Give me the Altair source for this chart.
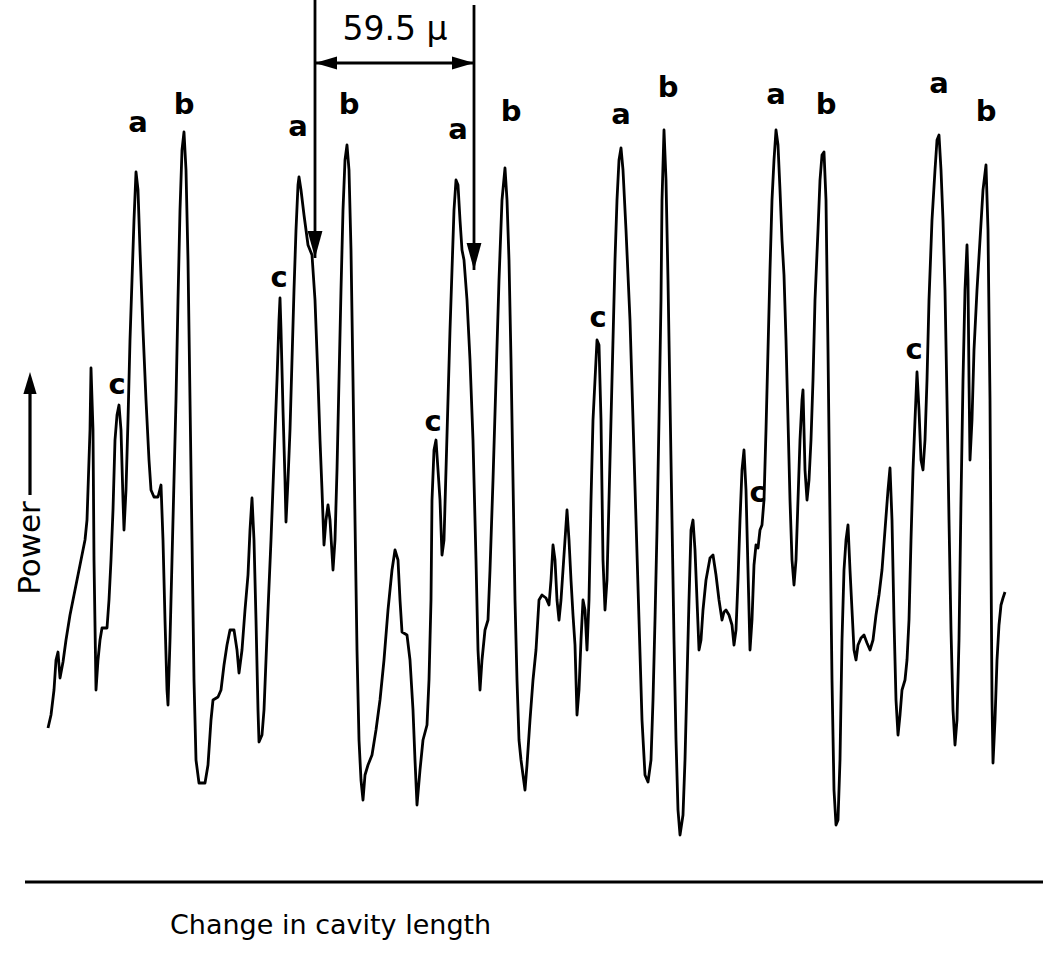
import altair as alt
import pandas as pd

# Recorder trace: laser output power while the cavity length is swept
cavity_shift = [
    48, 51, 54, 56, 58, 60, 63, 66, 70, 74, 78, 82, 85, 87, 88, 90, 91, 93, 94, 96,
    98, 100, 102, 107, 109, 111, 113, 115, 117, 119, 121, 123, 124, 126, 128, 130, 132, 134, 136, 138,
    140, 143, 146, 149, 151, 154, 158, 161, 163, 165, 167, 168, 170, 172, 174, 176, 178, 180, 182, 184,
    186, 188, 190, 192, 194, 196, 199, 205, 208, 211, 213, 218, 221, 224, 227, 230, 234, 237, 239, 242,
    245, 248, 250, 252, 254, 256, 258, 259, 262, 264, 266, 268, 271, 274, 277, 279, 280, 281, 283, 285,
    286, 288, 290, 292, 294, 296, 298, 299, 301, 304, 308, 312, 315, 318, 320, 322, 324, 326, 328, 330,
    333, 335, 337, 339, 341, 343, 345, 347, 349, 351, 353, 355, 357, 359, 361, 363, 365, 368, 372, 376,
    380, 384, 388, 392, 395, 398, 400, 402, 407, 410, 413, 415, 417, 420, 423, 427, 429, 431, 432, 434,
    436, 438, 440, 442, 444, 446, 448, 450, 452, 454, 456, 458, 460, 462, 464, 467, 470, 473, 476, 478,
    480, 482, 485, 488, 490, 493, 496, 499, 502, 505, 507, 509, 511, 513, 515, 517, 519, 521, 523, 525,
    527, 530, 533, 536, 539, 542, 546, 549, 551, 553, 555, 557, 559, 561, 563, 565, 567, 569, 571, 573,
    575, 577, 579, 581, 583, 585, 587, 589, 591, 593, 595, 597, 599, 601, 603, 605, 607, 609, 611, 613,
    615, 617, 619, 621, 623, 626, 630, 633, 636, 639, 642, 645, 648, 651, 653, 655, 657, 659, 661, 662,
    664, 666, 668, 670, 672, 674, 676, 678, 680, 683, 685, 687, 689, 691, 693, 695, 697, 699, 701, 703,
    706, 710, 713, 716, 719, 722, 724, 726, 729, 732, 734, 736, 738, 740, 742, 744, 746, 748, 750, 752,
    754, 756, 758, 760, 762, 764, 766, 768, 770, 772, 774, 776, 778, 780, 782, 784, 786, 788, 790, 792,
    794, 796, 798, 800, 802, 803, 805, 807, 809, 811, 813, 815, 818, 820, 822, 824, 826, 828, 830, 832,
    834, 836, 838, 840, 842, 844, 846, 848, 850, 852, 854, 856, 858, 861, 864, 867, 870, 873, 876, 879,
    882, 885, 888, 890, 892, 894, 896, 898, 900, 902, 905, 907, 909, 911, 913, 915, 917, 919, 921, 923,
    925, 927, 929, 932, 935, 937, 939, 941, 943, 945, 947, 949, 951, 953, 955, 957, 959, 961, 963, 965,
    967, 968, 969, 970, 972, 974, 977, 980, 983, 986, 988, 990, 991, 992, 993, 995, 997, 999, 1001, 1003,
    1005,
]
power = [
    154, 167, 192, 222, 230, 204, 220, 242, 267, 287, 307, 327, 342, 362, 392, 452, 514, 452, 322, 192,
    222, 242, 254, 254, 282, 322, 372, 442, 467, 477, 452, 382, 352, 392, 462, 542, 602, 662, 710, 692,
    632, 552, 482, 422, 392, 385, 385, 397, 342, 262, 192, 177, 242, 322, 402, 482, 582, 672, 732, 750,
    712, 622, 482, 342, 202, 122, 99, 99, 117, 162, 182, 185, 192, 217, 237, 252, 252, 232, 209, 232,
    272, 307, 352, 384, 342, 262, 172, 140, 147, 172, 222, 272, 342, 422, 502, 562, 584, 552, 472, 402,
    360, 402, 452, 522, 592, 652, 697, 705, 692, 667, 637, 627, 582, 502, 442, 392, 337, 362, 377, 362,
    312, 342, 412, 502, 592, 672, 722, 737, 712, 632, 502, 362, 232, 142, 102, 82, 107, 117, 127, 152,
    182, 222, 272, 312, 332, 322, 282, 250, 247, 222, 172, 122, 77, 112, 142, 157, 202, 282, 382, 432,
    442, 412, 382, 327, 342, 412, 482, 552, 612, 672, 702, 697, 662, 632, 622, 582, 522, 442, 322, 232,
    192, 222, 252, 262, 312, 402, 502, 602, 682, 714, 682, 622, 522, 402, 282, 202, 142, 122, 107, 92,
    117, 162, 202, 232, 282, 287, 284, 277, 302, 337, 322, 282, 262, 282, 312, 342, 372, 342, 302, 267,
    237, 167, 192, 242, 282, 272, 232, 282, 382, 462, 502, 542, 537, 462, 322, 272, 302, 382, 462, 542,
    622, 682, 722, 734, 712, 652, 562, 462, 362, 262, 162, 107, 100, 122, 182, 262, 352, 462, 582, 682,
    752, 702, 602, 482, 362, 242, 142, 72, 47, 67, 122, 202, 282, 352, 362, 332, 282, 232, 242, 272,
    302, 324, 327, 307, 282, 262, 270, 272, 267, 257, 237, 252, 302, 362, 412, 432, 392, 312, 232, 262,
    317, 337, 334, 352, 357, 382, 452, 532, 612, 682, 722, 752, 737, 692, 642, 607, 542, 462, 382, 322,
    297, 322, 382, 442, 482, 492, 412, 382, 402, 442, 502, 582, 652, 702, 727, 730, 682, 532, 362, 202,
    92, 57, 62, 122, 242, 312, 342, 357, 312, 272, 232, 222, 237, 244, 247, 239, 232, 242, 267, 287,
    312, 352, 392, 414, 362, 262, 182, 147, 167, 192, 202, 222, 262, 342, 412, 462, 510, 472, 422, 412,
    442, 502, 582, 662, 712, 742, 747, 712, 662, 592, 482, 362, 252, 172, 137, 162, 242, 382, 502, 592,
    637, 602, 502, 422, 462, 532, 592, 642, 692, 717, 652, 482, 322, 182, 119, 162, 222, 257, 277, 284,
    290,
]

# Mode labels above the peaks
label_text = ["a", "b", "c", "c", "a", "b", "c", "a", "b",
              "c", "a", "b", "c", "a", "b", "c", "a", "b"]
label_x = [138, 184, 117, 279, 298, 349, 433, 458, 511,
           598, 621, 668, 758, 776, 826, 914, 939, 986]
label_power = [759, 777, 497, 604, 755, 777, 460, 752, 770,
               564, 767, 794, 389, 787, 777, 532, 798, 770]

# Spacing marker between successive "a" modes
marker_x = [315, 474]
marker_top = [882, 877]
marker_tip = [624, 612]
spacing_level = 819
spacing_text = "59.5 μ"

trace = pd.DataFrame({"shift": cavity_shift, "power": power})
labels = pd.DataFrame({"x": label_x, "y": label_power, "t": label_text})

X = alt.Scale(domain=[0, 1043], nice=False, zero=False)
Y = alt.Scale(domain=[-73, 882], nice=False, zero=False)


def xenc(f):
    return alt.X(f, type="quantitative", scale=X, axis=None)


def yenc(f):
    return alt.Y(f, type="quantitative", scale=Y, axis=None)


line = alt.Chart(trace).mark_line(
    color="black", strokeWidth=2.8, interpolate="linear", strokeJoin="round"
).encode(x=xenc("shift"), y=yenc("power"), order="shift:Q")

peak_labels = alt.Chart(labels).mark_text(
    font="DejaVu Sans", fontWeight="bold", fontSize=29, color="black", baseline="middle"
).encode(x=xenc("x"), y=yenc("y"), text="t:N")

# Vertical marker arrows
mdf = pd.DataFrame({"x": marker_x, "top": marker_top, "tip": marker_tip})
marker_lines = alt.Chart(mdf).mark_rule(color="black", strokeWidth=2.8).encode(
    x=xenc("x"), y=yenc("top"), y2="tip:Q"
)
marker_heads = alt.Chart(mdf).mark_point(
    shape="M0,0 L-0.55,-2 L0.55,-2 Z", size=729, filled=True, color="black", opacity=1
).encode(x=xenc("x"), y=yenc("tip"))

# Horizontal double-headed arrow
hdf = pd.DataFrame({"x1": [marker_x[0]], "x2": [marker_x[1]], "y": [spacing_level]})
span_line = alt.Chart(hdf).mark_rule(color="black", strokeWidth=2.8).encode(
    x=xenc("x1"), x2="x2:Q", y=yenc("y")
)
left_head = alt.Chart(hdf).mark_point(
    shape="M0,0 L2,-0.6 L2,0.6 Z", size=484, filled=True, color="black", opacity=1
).encode(x=xenc("x1"), y=yenc("y"))
right_head = alt.Chart(hdf).mark_point(
    shape="M0,0 L-2,-0.6 L-2,0.6 Z", size=484, filled=True, color="black", opacity=1
).encode(x=xenc("x2"), y=yenc("y"))
span_text = alt.Chart(pd.DataFrame({"x": [395], "y": [852], "t": [spacing_text]})).mark_text(
    font="DejaVu Sans", fontSize=33, color="black", baseline="middle"
).encode(x=xenc("x"), y=yenc("y"), text="t:N")

# Horizontal axis line and its caption
axis_line = alt.Chart(pd.DataFrame({"x1": [25], "x2": [1043], "y": [0]})).mark_rule(
    color="black", strokeWidth=3.2
).encode(x=xenc("x1"), x2="x2:Q", y=yenc("y"))
x_caption = alt.Chart(pd.DataFrame({"x": [170], "y": [-44], "t": ["Change in cavity length"]})).mark_text(
    font="DejaVu Sans", fontSize=27, color="black", align="left", baseline="middle"
).encode(x=xenc("x"), y=yenc("y"), text="t:N")

# Vertical caption with arrow
y_caption = alt.Chart(pd.DataFrame({"x": [31], "y": [334], "t": ["Power"]})).mark_text(
    font="DejaVu Sans", fontSize=31, color="black", angle=270, baseline="middle", align="center"
).encode(x=xenc("x"), y=yenc("y"), text="t:N")
power_arrow = alt.Chart(pd.DataFrame({"x": [30], "y1": [387], "y2": [500]})).mark_rule(
    color="black", strokeWidth=3.2
).encode(x=xenc("x"), y=yenc("y1"), y2="y2:Q")
power_head = alt.Chart(pd.DataFrame({"x": [30], "y": [510]})).mark_point(
    shape="M0,0 L-0.6,2 L0.6,2 Z", size=484, filled=True, color="black", opacity=1
).encode(x=xenc("x"), y=yenc("y"))

chart = alt.layer(
    axis_line, x_caption, y_caption, power_arrow, power_head,
    marker_lines, marker_heads, span_line, left_head, right_head, span_text,
    line, peak_labels,
).properties(
    width=1043, height=955, padding=0, autosize=alt.AutoSizeParams(type="none"),
    background="white",
).configure_view(stroke=None)

chart.save("out.html", embed_options={"renderer": "svg", "actions": False})
